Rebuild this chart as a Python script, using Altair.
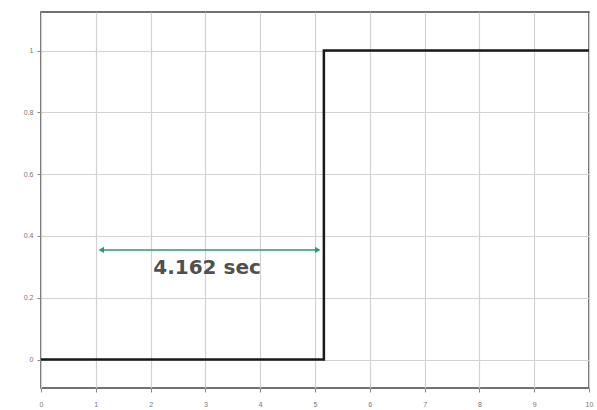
import altair as alt
import pandas as pd

# step response
step_t = [0, 5.162, 5.162, 10]
step_y = [0, 0, 1, 1]

# annotation arrow
arrow_x = [1.1, 5.05]
arrow_y = [0.355, 0.355]
arrow_shapes = ["triangle-left", "triangle-right"]
label_x = [3.03]
label_y = [0.298]
label_text = ["4.162 sec"]

x_ticks = list(range(0, 11))
y_ticks = [0, 0.2, 0.4, 0.6, 0.8, 1]

step_df = pd.DataFrame({"t": step_t, "y": step_y, "o": list(range(len(step_t)))})
arrow_df = pd.DataFrame({"x": [arrow_x[0]], "x2": [arrow_x[1]], "y": [arrow_y[0]]})
head_df = pd.DataFrame({"x": arrow_x, "y": arrow_y, "shape": arrow_shapes})
label_df = pd.DataFrame({"x": label_x, "y": label_y, "text": label_text})

xs = alt.Scale(domain=[0, 10], nice=False, zero=False)
ys = alt.Scale(domain=[-0.092, 1.125], nice=False, zero=False)

xax = alt.Axis(values=x_ticks, title=None, grid=True, gridColor="#d2d2d2", gridWidth=1.2,
               labelFontSize=7, labelColor="#777", tickColor="#888", tickSize=4,
               domain=False, labelPadding=8, labelFlush=False)
yax = alt.Axis(values=y_ticks, title=None, grid=True, gridColor="#d2d2d2", gridWidth=1.2,
               labelFontSize=7, labelColor="#777", tickColor="#888", tickSize=4,
               domain=False, labelPadding=4, format="~g")

step = alt.Chart(step_df).mark_line(color="#1a1a1a", strokeWidth=2.5, interpolate="linear").encode(
    x=alt.X("t:Q", scale=xs, axis=xax),
    y=alt.Y("y:Q", scale=ys, axis=yax),
    order="o:Q",
)

arrow = alt.Chart(arrow_df).mark_rule(color="#2a9a78", strokeWidth=1.5).encode(
    x=alt.X("x:Q", scale=xs), x2="x2:Q", y=alt.Y("y:Q", scale=ys)
)

heads = alt.Chart(head_df).mark_point(filled=True, color="#2a9a78", size=40, opacity=1).encode(
    x=alt.X("x:Q", scale=xs), y=alt.Y("y:Q", scale=ys),
    shape=alt.Shape("shape:N", scale=None, legend=None),
)

label = alt.Chart(label_df).mark_text(fontSize=20, fontWeight="bold", color="#505050",
                                      font="DejaVu Sans").encode(
    x=alt.X("x:Q", scale=xs), y=alt.Y("y:Q", scale=ys), text="text:N"
)

chart = alt.layer(step, arrow, heads, label).properties(
    width=548, height=376,
    padding={"left": 41, "top": 12, "right": 8, "bottom": 22},
    autosize=alt.AutoSizeParams(type="none"),
    background="white",
).configure_view(stroke="#444", strokeWidth=1.5)

chart.save("out.html", embed_options={"renderer": "svg", "actions": False})
